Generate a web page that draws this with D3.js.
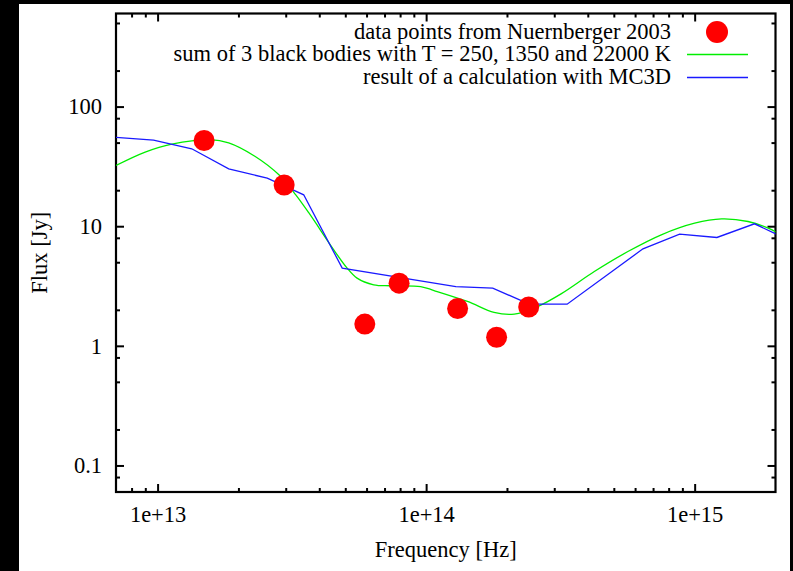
<!DOCTYPE html>
<html><head><meta charset="utf-8">
<script src="https://cdn.jsdelivr.net/npm/d3@7"></script>
<style>body{margin:0;background:#000}svg{display:block}</style>
</head><body><svg id="c" width="793" height="571"></svg>
<script>
// ---- data ----
const pointFreq = [1.49e13, 2.96e13, 5.91e13, 7.93e13, 1.31e14, 1.83e14, 2.41e14];
const pointFlux = [52.1, 22.1, 1.52, 3.34, 2.05, 1.18, 2.11];

const bbFreq = [7.0e12, 8.99e12, 1.13e13, 1.568e13, 1.84e13, 2.31e13, 2.83e13, 3.27e13, 3.66e13, 4.53e13, 5.08e13, 5.53e13, 6.38e13, 7.37e13, 9.54e13, 1.07e14, 1.425e14, 1.79e14, 2.13e14, 2.60e14, 3.18e14, 4.23e14, 5.64e14, 7.51e14, 1.0e15, 1.26e15, 1.58e15, 1.88e15, 2.04e15];
const bbFlux = [32.2, 41.7, 48.6, 53.0, 49.8, 38.3, 26.9, 18.3, 12.9, 6.35, 4.46, 3.68, 3.24, 3.18, 3.13, 2.90, 2.35, 1.90, 1.84, 2.13, 2.72, 4.18, 6.14, 8.48, 10.6, 11.5, 10.95, 9.64, 8.76];

const mcFreq = [7.0e12, 9.66e12, 1.34e13, 1.84e13, 2.56e13, 3.50e13, 4.87e13, 1.29e14, 1.77e14, 2.42e14, 3.35e14, 6.42e14, 8.79e14, 1.21e15, 1.67e15, 2.04e15];
const mcFlux = [55.2, 52.5, 44.4, 30.2, 25.2, 18.3, 4.46, 3.13, 3.04, 2.23, 2.23, 6.47, 8.59, 8.05, 10.47, 8.48];

const xMajorTicks = [1e13, 1e14, 1e15];
const xTickLabels = ["1e+13", "1e+14", "1e+15"];
const xMinorTicks = [8e12, 9e12, 2e13, 3e13, 4e13, 5e13, 6e13, 7e13, 8e13, 9e13, 2e14, 3e14, 4e14, 5e14, 6e14, 7e14, 8e14, 9e14];
const yMajorTicks = [0.1, 1, 10, 100];
const yTickLabels = ["0.1", "1", "10", "100"];
const yMinorTicks = [0.08, 0.2, 0.5, 0.8, 2, 5, 8, 20, 50, 80, 200, 500];

const legendLabels = ["data points from Nuernberger 2003", "sum of 3 black bodies with T = 250, 1350 and 22000 K", "result of a calculation with MC3D"];
const xTitle = "Frequency [Hz]";
const yTitle = "Flux [Jy]";

// ---- layout ----
const FONT = "'Liberation Serif', 'Times New Roman', serif";
const FS = 22.5;
const L = 116, R = 775.5, T = 13.5, B = 492;
const svg = d3.select("#c");

svg.append("rect").attr("x", 0).attr("y", 0).attr("width", 793).attr("height", 571).attr("fill", "#000");
svg.append("rect").attr("x", 19).attr("y", 4).attr("width", 771).attr("height", 567).attr("fill", "#fff");

const x = d3.scaleLog().domain([7e12, 2e15]).range([L, R]);
const y = d3.scaleLog().domain([0.06, 600]).range([B, T]);

svg.append("defs").append("clipPath").attr("id", "clip")
  .append("rect").attr("x", L).attr("y", T).attr("width", R - L).attr("height", B - T);

function styleAxis(g) {
  g.select(".domain").remove();
  g.selectAll(".tick line").attr("stroke", "#000").attr("stroke-width", 2);
  g.selectAll("text").attr("font-family", FONT).attr("font-size", FS).attr("fill", "#000");
}

// bottom
svg.append("g").attr("transform", `translate(0,${B})`)
  .call(d3.axisBottom(x).tickValues(xMajorTicks).tickFormat((d, i) => xTickLabels[i]).tickSize(-8).tickPadding(14))
  .call(styleAxis);
svg.append("g").attr("transform", `translate(0,${B})`)
  .call(d3.axisBottom(x).tickValues(xMinorTicks).tickFormat("").tickSize(-4))
  .call(styleAxis);
// top
svg.append("g").attr("transform", `translate(0,${T})`)
  .call(d3.axisTop(x).tickValues(xMajorTicks).tickFormat("").tickSize(-8))
  .call(styleAxis);
svg.append("g").attr("transform", `translate(0,${T})`)
  .call(d3.axisTop(x).tickValues(xMinorTicks).tickFormat("").tickSize(-4))
  .call(styleAxis);
// left
svg.append("g").attr("transform", `translate(${L},0)`)
  .call(d3.axisLeft(y).tickValues(yMajorTicks).tickFormat((d, i) => yTickLabels[i]).tickSize(-8).tickPadding(14))
  .call(styleAxis);
svg.append("g").attr("transform", `translate(${L},0)`)
  .call(d3.axisLeft(y).tickValues(yMinorTicks).tickFormat("").tickSize(-4))
  .call(styleAxis);
// right
svg.append("g").attr("transform", `translate(${R},0)`)
  .call(d3.axisRight(y).tickValues(yMajorTicks).tickFormat("").tickSize(-8))
  .call(styleAxis);
svg.append("g").attr("transform", `translate(${R},0)`)
  .call(d3.axisRight(y).tickValues(yMinorTicks).tickFormat("").tickSize(-4))
  .call(styleAxis);

// frame
svg.append("rect").attr("x", L).attr("y", T).attr("width", R - L).attr("height", B - T)
  .attr("fill", "none").attr("stroke", "#000").attr("stroke-width", 2.2);

// lines
const plot = svg.append("g").attr("clip-path", "url(#clip)");
const bbData = bbFreq.map((f, i) => [f, bbFlux[i]]);
const mcData = mcFreq.map((f, i) => [f, mcFlux[i]]);
plot.append("path").datum(bbData)
  .attr("d", d3.line().x(d => x(d[0])).y(d => y(d[1])).curve(d3.curveCatmullRom.alpha(0.5)))
  .attr("fill", "none").attr("stroke", "#00ee00").attr("stroke-width", 1.3);
plot.append("path").datum(mcData)
  .attr("d", d3.line().x(d => x(d[0])).y(d => y(d[1])))
  .attr("fill", "none").attr("stroke", "#1a1aff").attr("stroke-width", 1.3);

// points
plot.selectAll("circle.pt").data(pointFreq.map((f, i) => [f, pointFlux[i]])).enter()
  .append("circle").attr("class", "pt")
  .attr("cx", d => x(d[0])).attr("cy", d => y(d[1])).attr("r", 10.5).attr("fill", "#ff0000");

// legend
const lg = svg.append("g");
const lgY = [32, 54.5, 77.5];
lg.selectAll("text").data(legendLabels).enter().append("text")
  .attr("x", 671).attr("y", (d, i) => lgY[i] + 6.5)
  .attr("text-anchor", "end").attr("font-family", FONT).attr("font-size", FS).attr("fill", "#000")
  .text(d => d);
lg.append("circle").attr("cx", 717).attr("cy", lgY[0]).attr("r", 11).attr("fill", "#ff0000");
lg.append("line").attr("x1", 687).attr("x2", 748).attr("y1", lgY[1]).attr("y2", lgY[1])
  .attr("stroke", "#00ee00").attr("stroke-width", 1.3);
lg.append("line").attr("x1", 687).attr("x2", 748).attr("y1", lgY[2]).attr("y2", lgY[2])
  .attr("stroke", "#1a1aff").attr("stroke-width", 1.3);

// titles
svg.append("text").attr("x", (L + R) / 2).attr("y", 556.5).attr("text-anchor", "middle")
  .attr("font-family", FONT).attr("font-size", FS).attr("fill", "#000").text(xTitle);
svg.append("text").attr("transform", `translate(47,${(T + B) / 2}) rotate(-90)`).attr("text-anchor", "middle")
  .attr("font-family", FONT).attr("font-size", FS).attr("fill", "#000").text(yTitle);
</script>
</body></html>
